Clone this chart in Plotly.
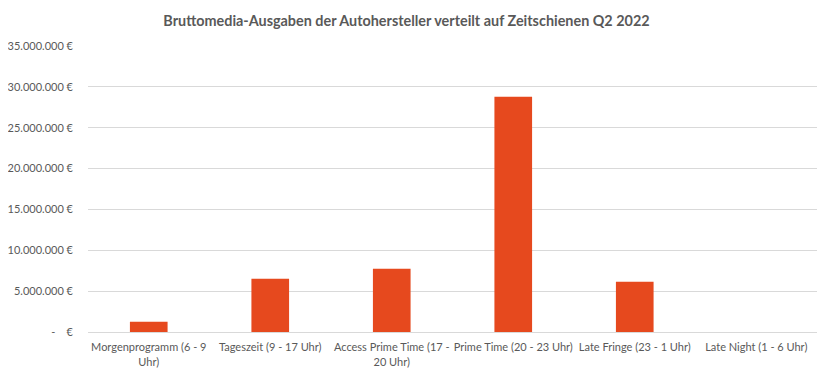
import plotly.graph_objects as go

categories = [
    "Morgenprogramm (6 - 9<br>Uhr)",
    "Tageszeit (9 - 17 Uhr)",
    "Access Prime Time (17 -<br>20 Uhr)",
    "Prime Time (20 - 23 Uhr)",
    "Late Fringe (23 - 1 Uhr)",
    "Late Night (1 - 6 Uhr)",
]
values = [1260000, 6520000, 7750000, 28800000, 6160000, 0]
tick_vals = [0, 5000000, 10000000, 15000000, 20000000, 25000000, 30000000, 35000000]
tick_text = ["-    €", "5.000.000 €", "10.000.000 €", "15.000.000 €", "20.000.000 €",
             "25.000.000 €", "30.000.000 €", "35.000.000 €"]
title = "Bruttomedia-Ausgaben der Autohersteller verteilt auf Zeitschienen Q2 2022"

fig = go.Figure(go.Bar(x=categories, y=values, marker=dict(color="#E6491E", line=dict(width=0))))

fig.update_layout(
    width=824, height=371,
    margin=dict(l=80, r=15, t=38, b=47, autoexpand=False),
    paper_bgcolor="white", plot_bgcolor="white",
    bargap=0.69,
    showlegend=False,
    font=dict(family="Lato, Open Sans, sans-serif", size=11, color="#595959"),
    title=dict(text="<b>" + title + "</b>", x=0.4836, xanchor="center", y=0.965, yanchor="middle",
               font=dict(size=14.4, color="#595959")),
    xaxis=dict(showgrid=False, showline=True, linecolor="#D9D9D9", linewidth=1,
               ticks="", ticklabelstandoff=5, tickfont=dict(size=11, color="#595959")),
    yaxis=dict(range=[0, 35000000], tickvals=tick_vals, ticktext=tick_text,
               showgrid=True, gridcolor="#D9D9D9", gridwidth=1, zeroline=False,
               showline=False, ticks="", ticklen=0, ticklabelstandoff=14,
               tickfont=dict(size=11, color="#595959")),
)

fig.write_html("out.html")
